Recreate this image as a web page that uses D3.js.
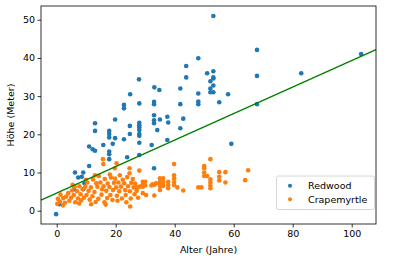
<!DOCTYPE html>
<html><head><meta charset="utf-8">
<script src="https://cdn.jsdelivr.net/npm/d3@7"></script>
<style>body{margin:0;background:#fff}svg{display:block}text{font-family:"DejaVu Sans",sans-serif}</style>
</head><body><svg id="c" width="394" height="262"></svg>
<script>
const seriesNames = ["Redwood", "Crapemyrtle"];
const seriesColors = ["#1f77b4", "#ff7f0e"];
const xTicks = [0, 20, 40, 60, 80, 100];
const yTicks = [0, 10, 20, 30, 40, 50];
const fitLine = {intercept: 4.64, slope: 0.347};

const redwood = [
[-0.2,-0.9],[0.9,1.7],[5.9,5.6],[9,5.6],[6.2,10],[7.3,8.7],[8.5,8.9],[9,10],[9.4,7.2],[11,11.7],
[11,16.8],[12.2,16.1],[13,15.7],[13,20.9],[13,22.9],[15.8,17.2],[17.8,13.5],[17.8,14.8],[17.8,15.5],
[17.8,19.2],[17.8,20.1],[17.8,20.9],[19,17.5],[19.8,19],[19.8,23.9],[22.8,18.7],[22.8,26.8],[22.8,27.7],
[23.9,14],[24.8,20.1],[24.8,22.2],[24.9,30.5],[28,17.8],[28,19.6],[28,20.1],[28,21.1],[28,21.8],[28,22.4],
[28,23],[28,28.1],[27.9,34.4],[28,14.6],[32.2,17.2],[33,11.1],[33,22.9],[33,23.7],[33,25],[33,27.9],
[33,28.5],[33.1,32.3],[34.1,21.1],[35,23.9],[34.8,31.6],[37.5,24.6],[37.8,23.1],[37.5,18.5],[41.9,21.6],
[41.9,27.9],[41.9,32],[42.9,24.1],[43.9,34.9],[43.9,37.9],[48,27.9],[48,28.6],[48,30.7],[48,39.9],[51,36],
[52.1,31],[53.1,31],[52.1,32],[53.1,32.8],[52.1,33.9],[53.1,34.6],[53.1,34.9],[53.1,36.5],[53.1,51],
[55.1,28.4],[58.1,30.5],[59.2,17.5],[67.9,27.9],[67.9,35.3],[67.9,42.1],[82.9,36],[103.2,41]
];
const crapemyrtle = [
[0.2,1.8],[0.4,3.1],[1.1,2.4],[1.3,4.2],[2.2,3.3],[2.1,1.4],[3.2,3.7],[2.8,2.1],[3.9,4.6],[4.3,2.6],
[4.9,3.4],[5.2,5.3],[5.8,4.1],[6.3,2.2],[6.1,6.2],[7.2,3.2],[6.9,5.1],[8.1,4.3],[7.7,6.4],[8.3,2.7],
[9.2,3.4],[8.8,5.6],[10.1,4.1],[9.7,6.3],[10.4,7.4],[11.2,2.9],[10.8,5.2],[12.1,3.8],[11.6,6.1],[12.3,8.2],
[13.2,2.3],[12.8,4.9],[13.4,7.2],[14.1,3.1],[13.8,6.3],[14.3,9.1],[15.2,4.2],[14.8,7.4],[15.4,5.6],[16.2,2.2],
[15.9,6.4],[16.3,8.3],[17.1,3.3],[16.8,5.2],[17.3,7.1],[18.2,4.1],[17.9,6.2],[18.4,8.7],[19.1,5.4],[18.9,2.8],
[19.4,7.3],[20.2,6.1],[19.8,8.4],[20.4,3.9],[21.2,5.1],[20.9,7.4],[21.4,9.3],[22.1,3.2],[21.8,6.3],[22.4,8.1],
[23.2,5.4],[22.9,7.2],[23.4,4.1],[24.2,6.4],[23.9,8.8],[25.1,3.2],[24.8,5.1],[25.3,7.3],[26.1,6.1],[25.8,8.3],
[27.1,5.2],[24.9,1.1],[28.1,6.3],[28,10.5],[26.6,7.1],[26.4,4.3],[27.6,3.4],[23.6,2.2],[20.6,2.6],[16.6,1.6],
[11.7,1.7],[7.6,1.9],[5.4,6.8],[9.9,8.1],[13,9.3],
[15.7,13.5],[15.8,12.2],[20.3,12.4],[19.7,11.1],[24.7,11.1],[24.7,9.8],[18,9.5],
[27.2,6.1],[29.2,7.6],[29.2,6.9],[29.2,6.3],[29.2,4.6],[30,7.6],[30,6.6],[30.3,4.1],[32.1,6.6],[32.5,6.9],
[33.1,6.8],[33.1,4],[33.7,7.2],[35,8.5],[35,7.5],[35,6.5],[35,5.4],[36.1,8.5],[36.1,7.5],[36.1,6.5],
[37.8,7.6],[37.8,6.7],[37.8,5.9],[39.8,9.3],[39.8,8.5],[39.8,7.5],[39.8,6.7],[39.8,12.2],[40.9,6.1],
[42.9,5.3],[48,6.1],[49.1,6.1],[50,11.7],[50,11.1],[50,10],[50,9.1],[51,9.1],[52.1,13.5],[52.1,8.2],
[52.1,7.4],[52.1,6.6],[52.1,5.9],[55.1,10.1],[55.1,8.9],[55.1,7.9],[57.2,10.1],[57.2,7.4],[63.9,8],[64.9,10.6]
];

const svg = d3.select("#c");
const L = 41, R = 376, T = 6, B = 224;
const x = d3.scaleLinear().domain([-5.32, 108.24]).range([L, R]);
const y = d3.scaleLinear().domain([-3.48, 53.6]).range([B, T]);

const xa = svg.append("g").attr("transform", `translate(0,${B})`)
  .call(d3.axisBottom(x).tickValues(xTicks).tickSize(3.5).tickPadding(2.5));
const ya = svg.append("g").attr("transform", `translate(${L},0)`)
  .call(d3.axisLeft(y).tickValues(yTicks).tickSize(3.5).tickPadding(2.5));
[xa, ya].forEach(a => {
  a.selectAll(".domain").remove();
  a.selectAll("text").attr("font-size", 9.5).attr("fill", "#000").style("font-family", "DejaVu Sans");
  a.selectAll("line").attr("stroke", "#000").attr("stroke-width", 0.8);
});

const data = [redwood, crapemyrtle];
data.forEach((s, i) => {
  svg.append("g").selectAll("circle").data(s).join("circle")
    .attr("cx", d => x(d[0])).attr("cy", d => y(d[1])).attr("r", 2.3)
    .attr("fill", seriesColors[i]);
});

const xd = x.domain();
svg.append("line")
  .attr("x1", x(xd[0])).attr("y1", y(fitLine.intercept + fitLine.slope * xd[0]))
  .attr("x2", x(xd[1])).attr("y2", y(fitLine.intercept + fitLine.slope * xd[1]))
  .attr("stroke", "#008000").attr("stroke-width", 1.4);

svg.append("rect").attr("x", L).attr("y", T).attr("width", R - L).attr("height", B - T)
  .attr("fill", "none").attr("stroke", "#000").attr("stroke-width", 0.8);

svg.append("text").attr("x", (L + R) / 2).attr("y", 253).attr("text-anchor", "middle")
  .attr("font-size", 9.5).text("Alter (Jahre)");
svg.append("text").attr("transform", `translate(14,${(T + B) / 2}) rotate(-90)`)
  .attr("text-anchor", "middle").attr("font-size", 9.5).text("Höhe (Meter)");

const lg = svg.append("g");
lg.append("rect").attr("x", 276.5).attr("y", 176).attr("width", 98).attr("height", 33.5)
  .attr("rx", 2).attr("fill", "#fff").attr("fill-opacity", 0.8).attr("stroke", "#ccc").attr("stroke-width", 0.8);
seriesNames.forEach((n, i) => {
  const yy = 185.7 + i * 13.6;
  lg.append("circle").attr("cx", 290).attr("cy", yy).attr("r", 2).attr("fill", seriesColors[i]);
  lg.append("text").attr("x", 308).attr("y", yy + 3.4).attr("font-size", 9.5).text(n);
});
</script></body></html>
